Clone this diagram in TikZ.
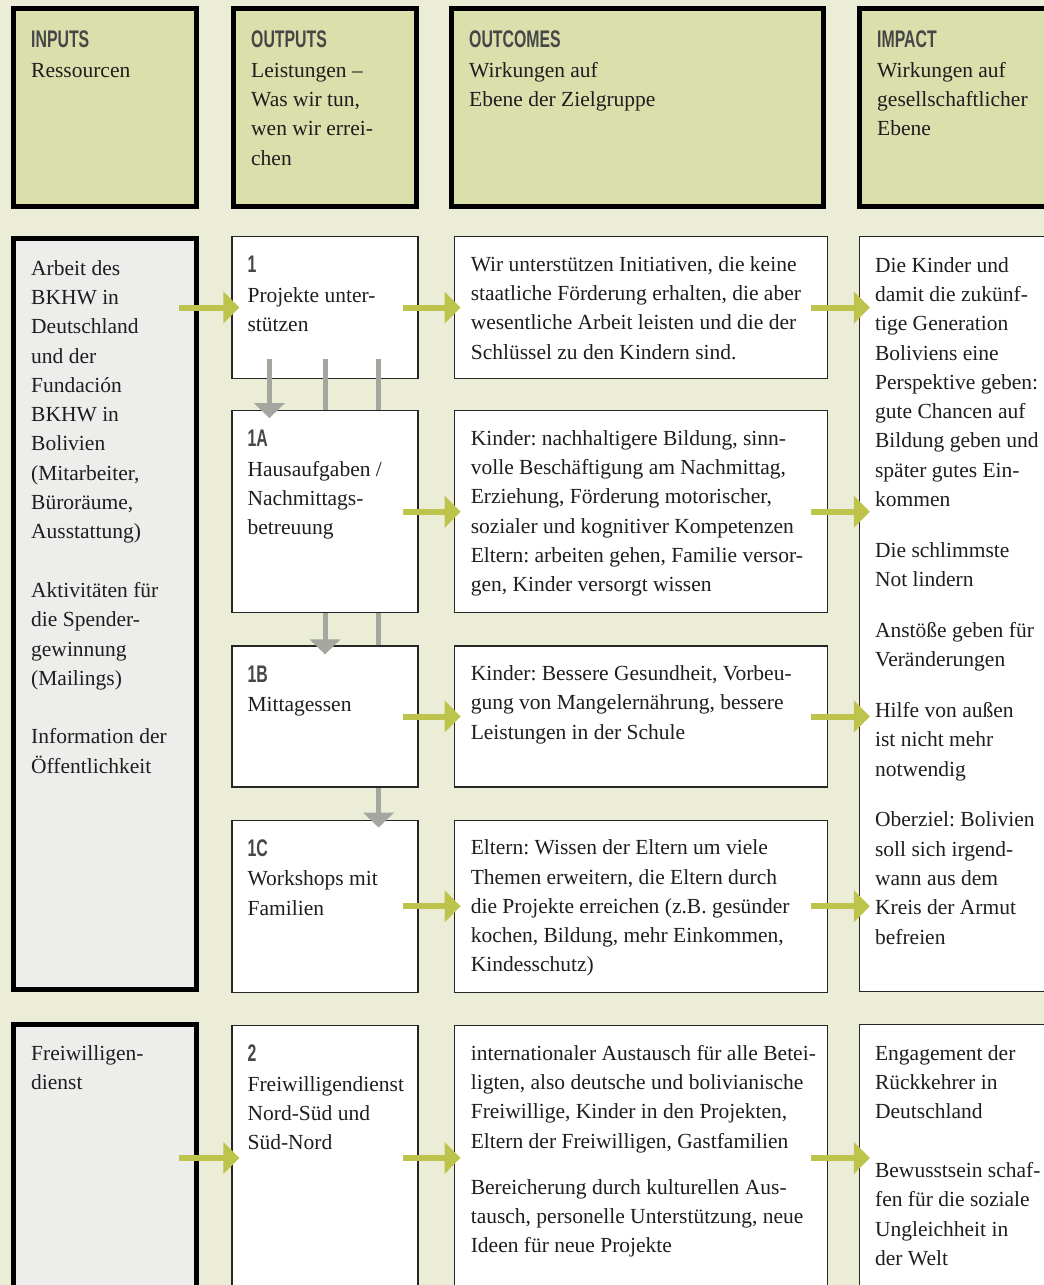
\documentclass[tikz,border=0pt]{standalone}
\usepackage{fontspec}
\setmainfont{Liberation Serif}
\newfontfamily\headfont[FakeStretch=0.66]{Liberation Sans}
\usepackage{tikz}
\usetikzlibrary{arrows.meta, positioning, calc}
\definecolor{grund}{HTML}{EBEDD7}
\definecolor{kopffeld}{HTML}{DBDFAC}
\definecolor{eingang}{HTML}{EDEDEB}
\definecolor{pfeilgruen}{HTML}{BEC34C}
\definecolor{pfeilgrau}{HTML}{A5A6A0}
\definecolor{kopfgrau}{HTML}{464646}
\definecolor{schrift}{HTML}{1E1E1E}
\newcommand{\kopf}[1]{{\headfont\bfseries\fontsize{24}{29.3}\selectfont\color{kopfgrau}#1}}
\frenchspacing

\begin{document}
\begin{tikzpicture}[x=1pt, y=1pt, node distance=32pt,
  headbox/.style={draw=black, line width=5pt, fill=kopffeld, rectangle, inner sep=0pt, minimum width=183pt, minimum height=198pt},
  inbox/.style={draw=black, line width=5pt, fill=eingang, rectangle, inner sep=0pt, minimum width=183pt},
  feld/.style={draw=black!85, line width=1.2pt, fill=white, rectangle, inner sep=0pt},
  txt/.style={inner sep=0pt, align=left, anchor=north west, text=schrift, font=\fontsize{21.5}{29.3}\selectfont, execute at begin node={\rule{0pt}{20pt}}},
  gruen/.style={line width=6pt, draw=pfeilgruen, -{Triangle[length=16pt, width=31pt]}},
  grau/.style={line width=5pt, draw=pfeilgrau},
  grauspitze/.style={grau, -{Triangle[length=15pt, width=30pt]}}]
\useasboundingbox (0,0) rectangle (1044,-1285);
\fill[grund] (0,0) rectangle (1044,-1285);
\clip (0,0) rectangle (1044,-1285);

\node (HI) [headbox, anchor=north west] at (11,-6) {};
\node (HO) [headbox, right=32pt of HI] {};
\node (HC) [headbox, right=30pt of HO, minimum width=372pt] {};
\node (HP) [headbox, right=31pt of HC, minimum width=200pt] {};

\node (I1) [inbox, below=27pt of HI, minimum height=751pt] {};
\node (O1) [feld, below=27pt of HO, minimum width=186pt, minimum height=142pt] {};
\node (O1A) [feld, below=31pt of O1, minimum width=186pt, minimum height=202pt] {};
\node (O1B) [feld, below=32pt of O1A, minimum width=186pt, minimum height=141pt] {};
\node (O1C) [feld, below=32pt of O1B, minimum width=186pt, minimum height=172pt] {};
\node (C1) [feld, right=35pt of O1, minimum width=373pt, minimum height=142pt] {};
\node (C1A) [feld, right=35pt of O1A, minimum width=373pt, minimum height=202pt] {};
\node (C1B) [feld, right=35pt of O1B, minimum width=373pt, minimum height=141pt] {};
\node (C1C) [feld, right=35pt of O1C, minimum width=373pt, minimum height=172pt] {};
\node (P1) [feld, below=27pt of HP, minimum width=200pt, minimum height=755pt] {};

\node (I2) [inbox, below=30pt of I1, minimum height=265pt] {};
\node (O2) [feld, below=32pt of O1C, minimum width=186pt, minimum height=265pt] {};
\node (C2) [feld, right=35pt of O2, minimum width=373pt, minimum height=265pt] {};
\node (P2) [feld, below=32pt of P1, minimum width=200pt, minimum height=265pt] {};

\node (tHI) [txt] at ([xshift=20pt, yshift=-25pt]HI.north west) {\kopf{INPUTS}\\Ressourcen};
\node (tHO) [txt] at ([xshift=20pt, yshift=-25pt]HO.north west) {\kopf{OUTPUTS}\\Leistungen –\\Was wir tun,\\wen wir errei-\\chen};
\node (tHC) [txt] at ([xshift=20pt, yshift=-25pt]HC.north west) {\kopf{OUTCOMES}\\Wirkungen auf\\Ebene der Zielgruppe};
\node (tHP) [txt] at ([xshift=20pt, yshift=-25pt]HP.north west) {\kopf{IMPACT}\\Wirkungen auf\\gesellschaftlicher\\Ebene};

\node (tI1) [txt] at ([xshift=20pt, yshift=-24pt]I1.north west) {Arbeit des\\BKHW in\\Deutschland\\und der\\Fundación\\BKHW in\\Bolivien\\(Mitarbeiter,\\Büroräume,\\Ausstattung)\\[29.3pt]Aktivitäten für\\die Spender-\\gewinnung\\(Mailings)\\[29.3pt]Information der\\Öffentlichkeit};
\node (tO1) [txt] at ([xshift=16pt, yshift=-20pt]O1.north west) {\kopf{1}\\Projekte unter-\\stützen};
\node (tO1A) [txt] at ([xshift=16pt, yshift=-20pt]O1A.north west) {\kopf{1A}\\Hausaufgaben /\\Nachmittags-\\betreuung};
\node (tO1B) [txt] at ([xshift=16pt, yshift=-20pt]O1B.north west) {\kopf{1B}\\Mittagessen};
\node (tO1C) [txt] at ([xshift=16pt, yshift=-20pt]O1C.north west) {\kopf{1C}\\Workshops mit\\Familien};
\node (tC1) [txt] at ([xshift=17pt, yshift=-20pt]C1.north west) {Wir unterstützen Initiativen, die keine\\staatliche Förderung erhalten, die aber\\wesentliche Arbeit leisten und die der\\Schlüssel zu den Kindern sind.};
\node (tC1A) [txt] at ([xshift=17pt, yshift=-20pt]C1A.north west) {Kinder: nachhaltigere Bildung, sinn-\\volle Beschäftigung am Nachmittag,\\Erziehung, Förderung motorischer,\\sozialer und kognitiver Kompetenzen\\Eltern: arbeiten gehen, Familie versor-\\gen, Kinder versorgt wissen};
\node (tC1B) [txt] at ([xshift=17pt, yshift=-20pt]C1B.north west) {Kinder: Bessere Gesundheit, Vorbeu-\\gung von Mangelernährung, bessere\\Leistungen in der Schule};
\node (tC1C) [txt] at ([xshift=17pt, yshift=-20pt]C1C.north west) {Eltern: Wissen der Eltern um viele\\Themen erweitern, die Eltern durch\\die Projekte erreichen (z.B. gesünder\\kochen, Bildung, mehr Einkommen,\\Kindesschutz)};
\node (tP1) [txt] at ([xshift=16pt, yshift=-21pt]P1.north west) {Die Kinder und\\damit die zukünf-\\tige Generation\\Boliviens eine\\Perspektive geben:\\gute Chancen auf\\Bildung geben und\\später gutes Ein-\\kommen\\[21.5pt]Die schlimmste\\Not lindern\\[21.5pt]Anstöße geben für\\Veränderungen\\[21.5pt]Hilfe von außen\\ist nicht mehr\\notwendig\\[21.5pt]Oberziel: Bolivien\\soll sich irgend-\\wann aus dem\\Kreis der Armut\\befreien};

\node (tI2) [txt] at ([xshift=20pt, yshift=-23pt]I2.north west) {Freiwilligen-\\dienst};
\node (tO2) [txt] at ([xshift=16pt, yshift=-20pt]O2.north west) {\kopf{2}\\Freiwilligendienst\\Nord-Süd und\\Süd-Nord};
\node (tC2) [txt] at ([xshift=17pt, yshift=-20pt]C2.north west) {internationaler Austausch für alle Betei-\\ligten, also deutsche und bolivianische\\Freiwillige, Kinder in den Projekten,\\Eltern der Freiwilligen, Gastfamilien\\[17pt]Bereicherung durch kulturellen Aus-\\tausch, personelle Unterstützung, neue\\Ideen für neue Projekte};
\node (tP2) [txt] at ([xshift=16pt, yshift=-21pt]P2.north west) {Engagement der\\Rückkehrer in\\Deutschland\\[29.3pt]Bewusstsein schaf-\\fen für die soziale\\Ungleichheit in\\der Welt};

\draw[grauspitze] ([xshift=38pt, yshift=20pt]O1.south west) -- ([xshift=38pt, yshift=-8pt]O1A.north west);
\draw[grau] ([yshift=20pt]O1.south) -- (O1A.north);
\draw[grauspitze] (O1A.south) -- ([yshift=-9pt]O1B.north);
\draw[grau] ([xshift=-40pt, yshift=20pt]O1.south east) -- ([xshift=-40pt]O1A.north east);
\draw[grau] ([xshift=-40pt]O1A.south east) -- ([xshift=-40pt]O1B.north east);
\draw[grauspitze] ([xshift=-40pt]O1B.south east) -- ([xshift=-40pt, yshift=-8pt]O1C.north east);

\draw[gruen] ([xshift=-20pt]I1.east |- O1.west) -- ([xshift=8pt]O1.west);
\draw[gruen] ([xshift=-16pt]O1.east) -- ([xshift=7pt]C1.west);
\draw[gruen] ([xshift=-16pt]O1A.east) -- ([xshift=7pt]C1A.west);
\draw[gruen] ([xshift=-16pt]O1B.east) -- ([xshift=7pt]C1B.west);
\draw[gruen] ([xshift=-16pt]O1C.east) -- ([xshift=7pt]C1C.west);
\draw[gruen] ([xshift=-17pt]C1.east) -- ([xshift=11pt]P1.west |- C1.east);
\draw[gruen] ([xshift=-17pt]C1A.east) -- ([xshift=11pt]P1.west |- C1A.east);
\draw[gruen] ([xshift=-17pt]C1B.east) -- ([xshift=11pt]P1.west |- C1B.east);
\draw[gruen] ([xshift=-17pt]C1C.east) -- ([xshift=11pt]P1.west |- C1C.east);

\draw[gruen] ([xshift=-20pt]I2.east |- O2.west) -- ([xshift=8pt]O2.west);
\draw[gruen] ([xshift=-16pt]O2.east) -- ([xshift=7pt]C2.west);
\draw[gruen] ([xshift=-17pt]C2.east) -- ([xshift=11pt]P2.west |- C2.east);
\end{tikzpicture}
\end{document}
